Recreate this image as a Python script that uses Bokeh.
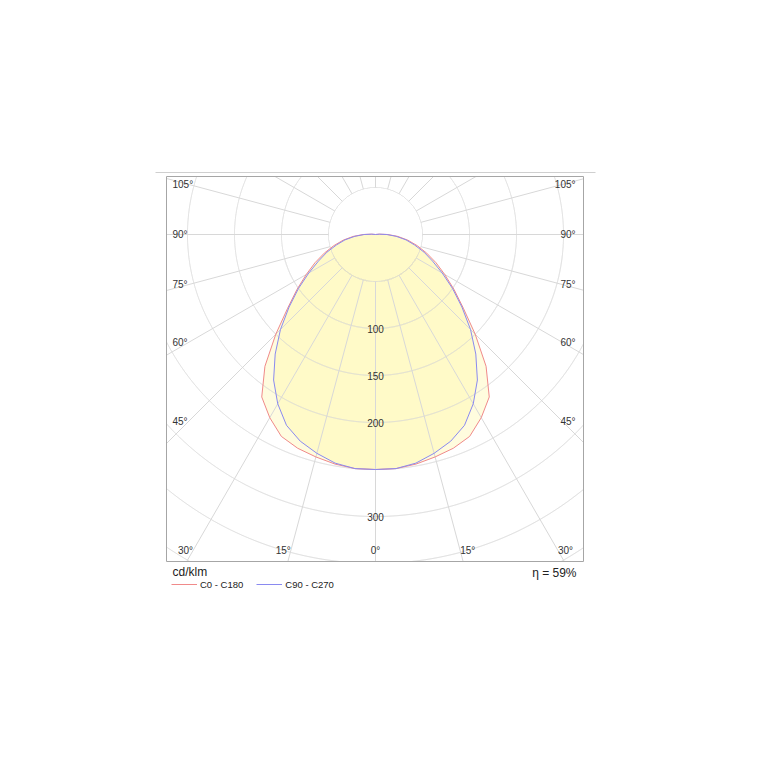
import numpy as np
from bokeh.plotting import figure
from bokeh.models import Range1d, Legend, LegendItem
from bokeh.core.properties import value
from bokeh.embed import file_html
from bokeh.resources import INLINE

# ---------------- data ----------------
gamma_deg = [0, 5, 10, 15, 20, 25, 30, 35, 40, 45, 50, 55, 60, 65, 70, 75, 80, 85, 90, 95, 100, 180]
c0_c180 = [250, 250, 248, 245, 242, 237, 225, 211, 183, 150, 122, 102, 85, 71, 58, 46, 35, 24, 13, 4, 0, 0]
c90_c270 = [250, 250, 247, 241, 234, 224, 208, 189, 166, 143, 120, 100, 82, 67, 55, 43, 33, 22, 12, 4, 0, 0]
series_names = ["C0 - C180", "C90 - C270"]

grid_radii = [50, 100, 150, 200, 250, 300, 350, 400, 450]
radial_tick_values = [100, 150, 200, 300]
spoke_angles = list(range(0, 360, 15))
side_angle_labels = [45, 60, 75, 90, 105]
bottom_angle_labels = [0, 15, 30]
unit_label = "cd/klm"
efficiency_label = "\u03b7 = 59%"

# ---------------- layout (pixels) ----------------
PX = 0.94                 # pixels per cd/klm
CX, CY = 375, 234         # pole of the diagram on the page
W = H = 760               # canvas
BOX_L, BOX_R, BOX_T, BOX_B = 166, 583, 176, 561
FONT = "Liberation Sans"
GRID = "#d8d8d8"
TXT = "#333333"


def dx(px):
    return (px - CX) / PX


def dy(py):
    return (CY - py) / PX


p = figure(frame_width=W, frame_height=H,
           x_range=Range1d(dx(0), dx(W)), y_range=Range1d(dy(H), dy(0)),
           min_border=0, output_backend="svg", toolbar_location=None,
           x_axis_type=None, y_axis_type=None)
p.grid.visible = False
p.outline_line_color = None
p.background_fill_color = "white"
p.border_fill_color = "white"

bl, br, bt, bb = dx(BOX_L), dx(BOX_R), dy(BOX_T), dy(BOX_B)

g = np.radians(np.array(gamma_deg, dtype=float))


def polygon(vals):
    v = np.array(vals, dtype=float)
    xr = v * np.sin(g)
    yr = -v * np.cos(g)
    xs = np.concatenate([xr, -xr[::-1]])
    ys = np.concatenate([yr, yr[::-1]])
    return xs, ys


x0, y0 = polygon(c0_c180)
x90, y90 = polygon(c90_c270)

# fills
p.patch(x0, y0, fill_color="#fff59a", fill_alpha=0.33, line_color=None)
p.patch(x90, y90, fill_color="#fff59a", fill_alpha=0.33, line_color=None)

# grid circles, clipped to the box
t = np.linspace(0, 2 * np.pi, 4001)
cxs, cys = [], []
for r in grid_radii:
    xx = r * np.sin(t)
    yy = -r * np.cos(t)
    inside = (xx >= bl) & (xx <= br) & (yy <= bt) & (yy >= bb)
    xx = np.where(inside, xx, np.nan)
    yy = np.where(inside, yy, np.nan)
    cxs.append(xx)
    cys.append(yy)
p.multi_line(cxs, cys, line_color=GRID, line_width=1)

# spokes, clipped to the box
sa = np.radians(np.array(spoke_angles, dtype=float))
sx0, sy0, sx1, sy1 = [], [], [], []
r_in = grid_radii[0]
for a in sa:
    ux, uy = np.sin(a), -np.cos(a)
    lims = []
    if ux > 1e-9:
        lims.append(br / ux)
    elif ux < -1e-9:
        lims.append(bl / ux)
    if uy > 1e-9:
        lims.append(bt / uy)
    elif uy < -1e-9:
        lims.append(bb / uy)
    r_end = min(lims)
    if r_end > r_in:
        sx0.append(r_in * ux); sy0.append(r_in * uy)
        sx1.append(r_end * ux); sy1.append(r_end * uy)
p.segment(x0=sx0, y0=sy0, x1=sx1, y1=sy1, line_color=GRID, line_width=1)

# curves
r0 = p.line(x0, y0, line_color="#f08a8a", line_width=1)
r90 = p.line(x90, y90, line_color="#8a8af0", line_width=1)

# frame box and top rule
p.quad(left=[bl], right=[br], top=[bt], bottom=[bb], fill_color=None,
       line_color="#a6a6a6", line_width=1)
p.segment(x0=[dx(155)], y0=[dy(172)], x1=[dx(595)], y1=[dy(172)], line_color="#cfcfcf", line_width=1)

# radial value labels
p.text(x=[0] * len(radial_tick_values), y=[-v for v in radial_tick_values],
       text=[str(v) for v in radial_tick_values], text_font=value(FONT),
       text_font_size="10px", text_align="center", text_baseline="middle", text_color=TXT)

# side angle labels
sd = np.radians(np.array(side_angle_labels, dtype=float))
side_y = [-(187 / PX) / np.tan(a) if abs(a - np.pi / 2) > 1e-9 else 0.0 for a in sd]
side_txt = [f"{a}\u00b0" for a in side_angle_labels]
p.text(x=[dx(BOX_L + 6)] * len(side_y), y=side_y, text=side_txt, text_font=value(FONT),
       text_font_size="10px", text_align="left", text_baseline="middle", text_color=TXT)
p.text(x=[dx(BOX_R - 8)] * len(side_y), y=side_y, text=side_txt, text_font=value(FONT),
       text_font_size="10px", text_align="right", text_baseline="middle", text_color=TXT)

# bottom angle labels
bd = np.radians(np.array(bottom_angle_labels, dtype=float))
by = -316 / PX
bx = (316 / PX) * np.tan(bd)
for a, xx in zip(bottom_angle_labels, bx):
    lab = f"{a}\u00b0"
    if a == 0:
        p.text(x=[0], y=[by], text=[lab], text_font=value(FONT), text_font_size="10px",
               text_align="center", text_baseline="middle", text_color=TXT)
    else:
        p.text(x=[-xx], y=[by], text=[lab], text_font=value(FONT), text_font_size="10px",
               text_align="right", text_baseline="middle", text_color=TXT)
        p.text(x=[xx], y=[by], text=[lab], text_font=value(FONT), text_font_size="10px",
               text_align="left", text_baseline="middle", text_color=TXT)

# texts below the box
p.text(x=[dx(172)], y=[dy(571)], text=[unit_label], text_font=value(FONT), text_font_size="12px",
       text_align="left", text_baseline="middle", text_color="#222222")
p.text(x=[dx(576)], y=[dy(572)], text=[efficiency_label], text_font=value(FONT), text_font_size="12px",
       text_align="right", text_baseline="middle", text_color="#222222")

legend = Legend(items=[LegendItem(label=series_names[0], renderers=[r0]),
                       LegendItem(label=series_names[1], renderers=[r90])],
                location=(171, H - 590), orientation="horizontal", glyph_width=26, glyph_height=12,
                label_height=12, label_standoff=3, spacing=13, padding=0, margin=0,
                border_line_color=None, background_fill_alpha=0,
                label_text_font=FONT, label_text_font_size="9.5px", label_text_color="#222222")
p.add_layout(legend)

open("out.html", "w").write(file_html(p, INLINE))
